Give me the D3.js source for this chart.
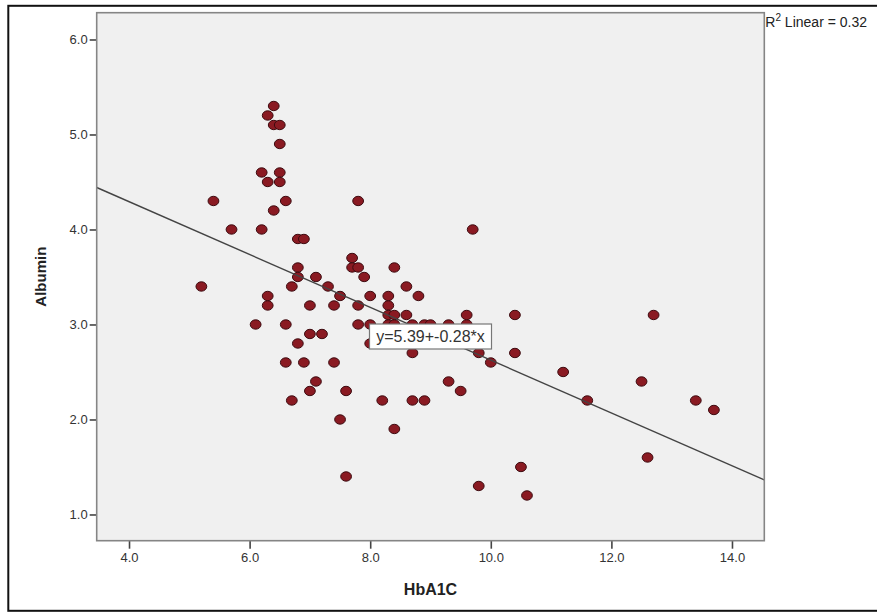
<!DOCTYPE html>
<html>
<head>
<meta charset="utf-8">
<script src="https://cdn.jsdelivr.net/npm/d3@7"></script>
<style>
	body { margin: 0; background: #fff; }
	svg { display: block; font-family: 'Liberation Sans', Arial, sans-serif; }
	.axis text { fill: #333; font-size: 13px; }
	.axis line { stroke: #444; }
	.axis-title { fill: #222; font-size: 15px; font-weight: bold; }
</style>
</head>
<body>
<div class="chart"></div>
<script>
// values
const hba1c = [
	6.4, 6.3, 6.4, 6.5, 6.5, 6.2, 6.5, 6.3, 6.5, 5.4,
	6.6, 7.8, 6.4, 5.7, 6.2, 9.7, 6.8, 6.9, 7.7, 6.8,
	7.7, 7.8, 8.4, 6.8, 7.1, 7.9, 5.2, 6.7, 7.3, 8.6,
	6.3, 7.5, 8.0, 8.3, 8.8, 6.3, 7.0, 7.4, 7.8, 8.3,
	8.3, 8.4, 8.6, 9.6, 10.4, 12.7, 6.1, 6.6, 7.8, 8.0,
	8.3, 8.4, 8.7, 8.9, 9.0, 9.3, 9.6, 7.0, 7.2, 6.8,
	8.0, 8.7, 9.8, 10.4, 6.6, 6.9, 7.4, 10.0, 11.2, 7.1,
	9.3, 12.5, 7.0, 7.6, 9.5, 6.7, 8.2, 8.7, 8.9, 11.6,
	13.4, 13.7, 7.5, 8.4, 7.6, 12.6, 10.5, 9.8, 10.6
];
const albumin = [
	5.3, 5.2, 5.1, 5.1, 4.9, 4.6, 4.6, 4.5, 4.5, 4.3,
	4.3, 4.3, 4.2, 4.0, 4.0, 4.0, 3.9, 3.9, 3.7, 3.6,
	3.6, 3.6, 3.6, 3.5, 3.5, 3.5, 3.4, 3.4, 3.4, 3.4,
	3.3, 3.3, 3.3, 3.3, 3.3, 3.2, 3.2, 3.2, 3.2, 3.2,
	3.1, 3.1, 3.1, 3.1, 3.1, 3.1, 3.0, 3.0, 3.0, 3.0,
	3.0, 3.0, 3.0, 3.0, 3.0, 3.0, 3.0, 2.9, 2.9, 2.8,
	2.8, 2.7, 2.7, 2.7, 2.6, 2.6, 2.6, 2.6, 2.5, 2.4,
	2.4, 2.4, 2.3, 2.3, 2.3, 2.2, 2.2, 2.2, 2.2, 2.2,
	2.2, 2.1, 2.0, 1.9, 1.4, 1.6, 1.5, 1.3, 1.2
];
const xTicks = [4, 6, 8, 10, 12, 14];
const yTicks = [1, 2, 3, 4, 5, 6];
const xDomain = [3.464, 14.536];
const yDomain = [0.724, 6.282];
// fit line as drawn (label is rounded)
const fitIntercept = 5.405;
const fitSlope = -0.278;
const fitLabel = 'y=5.39+-0.28*x';
const r2Label = ' Linear = 0.32';

const width = 877;
const height = 614;
const marginTop = 12.7;
const marginLeft = 96.7;
const plotW = 667.6;
const plotH = 528;

const $svg = d3.select('.chart').append('svg')
	.attr('width', width)
	.attr('height', height);

// outer frame (right side runs off the picture)
$svg.append('rect')
	.attr('x', 8.3).attr('y', 5.8)
	.attr('width', 890).attr('height', 605)
	.attr('fill', 'none')
	.attr('stroke', '#111')
	.attr('stroke-width', 2);

const scaleX = d3.scaleLinear().domain(xDomain).range([0, plotW]);
const scaleY = d3.scaleLinear().domain(yDomain).range([plotH, 0]);

const $g = $svg.append('g')
	.attr('transform', `translate(${marginLeft}, ${marginTop})`);

$g.append('rect')
	.attr('width', plotW).attr('height', plotH)
	.attr('fill', '#f0f0f0');

// axes
const $yAxis = $g.append('g')
	.attr('class', 'axis axis-y')
	.call(d3.axisLeft(scaleY)
		.tickValues(yTicks)
		.tickSize(7)
		.tickSizeOuter(0)
		.tickPadding(2)
		.tickFormat(d3.format('.1f')));

const $xAxis = $g.append('g')
	.attr('class', 'axis axis-x')
	.attr('transform', `translate(0, ${plotH})`)
	.call(d3.axisBottom(scaleX)
		.tickValues(xTicks)
		.tickSize(8)
		.tickSizeOuter(0)
		.tickPadding(4)
		.tickFormat(d3.format('.1f')));

$g.selectAll('.axis .domain').remove();
$g.selectAll('.axis line').attr('stroke-width', 1.6);

// clip for the fit line
$g.append('clipPath').attr('id', 'plot-clip')
	.append('rect').attr('width', plotW).attr('height', plotH);

const $vis = $g.append('g').attr('clip-path', 'url(#plot-clip)');

const points = hba1c.map((x, i) => ({ x, y: albumin[i] }));

$vis.selectAll('ellipse')
	.data(points)
	.enter()
	.append('ellipse')
	.attr('cx', d => scaleX(d.x))
	.attr('cy', d => scaleY(d.y))
	.attr('rx', 5.4)
	.attr('ry', 4.7)
	.attr('fill', '#8a1a22')
	.attr('stroke', '#3d0b10')
	.attr('stroke-width', 1);

const line = d3.line()
	.x(d => scaleX(d))
	.y(d => scaleY(fitIntercept + fitSlope * d));

$vis.append('path')
	.datum(xDomain)
	.attr('d', line)
	.attr('fill', 'none')
	.attr('stroke', '#444')
	.attr('stroke-width', 1.4);

// plot frame on top
$g.append('rect')
	.attr('width', plotW).attr('height', plotH)
	.attr('fill', 'none')
	.attr('stroke', '#858585')
	.attr('stroke-width', 1.6);

// equation label, centred on the plot
const $lab = $g.append('g')
	.attr('transform', `translate(${plotW / 2}, ${336.5 - marginTop})`);
$lab.append('rect')
	.attr('x', -61).attr('y', -12.5)
	.attr('width', 122).attr('height', 25)
	.attr('fill', '#fff')
	.attr('stroke', '#777')
	.attr('stroke-width', 1.2);
$lab.append('text')
	.attr('text-anchor', 'middle')
	.attr('dy', '0.36em')
	.attr('fill', '#333')
	.attr('font-size', 16)
	.text(fitLabel);

// R² label
const $r2 = $svg.append('text')
	.attr('x', marginLeft + plotW + 1)
	.attr('y', 27)
	.attr('fill', '#222')
	.attr('font-size', 14);
$r2.append('tspan').text('R');
$r2.append('tspan').attr('font-size', 10).attr('dy', -6).text('2');
$r2.append('tspan').attr('dy', 6).text(r2Label);

// axis titles
$svg.append('text')
	.attr('class', 'axis-title')
	.attr('x', marginLeft + plotW / 2)
	.attr('y', 595)
	.attr('text-anchor', 'middle')
	.attr('font-size', 16)
	.style('font-size', '16px')
	.text('HbA1C');

$svg.append('text')
	.attr('class', 'axis-title')
	.attr('transform', `translate(46, ${marginTop + plotH / 2}) rotate(-90)`)
	.attr('text-anchor', 'middle')
	.text('Albumin');
</script>
</body>
</html>
